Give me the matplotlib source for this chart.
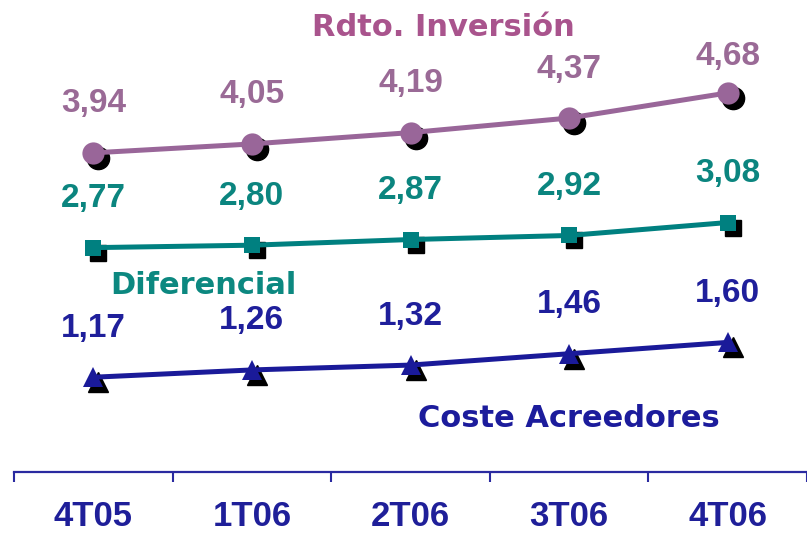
import matplotlib
matplotlib.use("Agg")
import matplotlib.pyplot as plt
from matplotlib.transforms import offset_copy

# data
quarters = ["4T05", "1T06", "2T06", "3T06", "4T06"]
rdto_inversion = [3.94, 4.05, 4.19, 4.37, 4.68]
diferencial = [2.77, 2.80, 2.87, 2.92, 3.08]
coste_acreedores = [1.17, 1.26, 1.32, 1.46, 1.60]

W, H = 807, 536
PX_PER_UNIT = 81.0
AXIS_Y = 472  # pixel row of the x axis line (from top)

fig = plt.figure(figsize=(W / 100, H / 100), dpi=100)
ax = fig.add_axes([14 / W, (H - AXIS_Y) / H, (W - 14) / W, AXIS_Y / H])
ymax = AXIS_Y / PX_PER_UNIT
ax.set_ylim(0, ymax)
ax.set_xlim(-0.5, -0.5 + (W - 14) / 160.6)

shadow = offset_copy(ax.transData, fig=fig, x=5, y=-5, units="dots")

series = [
    # values, line colour, label colour, marker, marker size
    (rdto_inversion, "#996699", "#9a6a96", "o", 16),
    (diferencial, "#008080", "#0b857f", "s", 11),
    (coste_acreedores, "#1a1a99", "#1f1f9b", "^", 14),
]

x = list(range(len(quarters)))
label_off = 49 / PX_PER_UNIT
label_cap = ymax - 56 / PX_PER_UNIT  # keep the top labels under the title

for vals, lc, tc, mk, ms in series:
    ax.plot(x, vals, linestyle="none", marker=mk, markersize=ms,
            color="black", transform=shadow, zorder=2, clip_on=False)
    ax.plot(x, vals, color=lc, linewidth=3.6, marker=mk, markersize=ms,
            markeredgewidth=0, zorder=3, clip_on=False)
    for xi, v in zip(x, vals):
        ax.text(xi, min(v + label_off, label_cap), f"{v:.2f}".replace(".", ","),
                ha="center", va="center", color=tc, fontsize=24,
                fontweight="bold", family="Liberation Sans")

# series names
fig.text(443 / W, 1 - 36 / H, "Rdto. Inversión", ha="center", va="baseline",
         color="#a9548d", fontsize=22, fontweight="bold", family="DejaVu Sans")
fig.text(203 / W, 1 - 294 / H, "Diferencial", ha="center", va="baseline",
         color="#0c8880", fontsize=22, fontweight="bold", family="DejaVu Sans")
fig.text(569 / W, 1 - 427 / H, "Coste Acreedores", ha="center", va="baseline",
         color="#1c1c9c", fontsize=22, fontweight="bold", family="DejaVu Sans")

axis_col = "#2a2aa0"
for s in ["left", "right", "top"]:
    ax.spines[s].set_visible(False)
ax.spines["bottom"].set_color(axis_col)
ax.spines["bottom"].set_linewidth(1.6)
ax.set_yticks([])

ax.set_xticks(x)
ax.set_xticklabels(quarters, fontsize=25, fontweight="bold",
                   family="Liberation Sans", color="#1f1f99")
ax.tick_params(axis="x", which="major", length=0, pad=20)
ax.set_xticks([i - 0.5 for i in range(len(quarters) + 1)], minor=True)
ax.tick_params(axis="x", which="minor", length=7.5, width=1.5,
               color=axis_col, direction="out")

fig.savefig("out.png", dpi=100)
